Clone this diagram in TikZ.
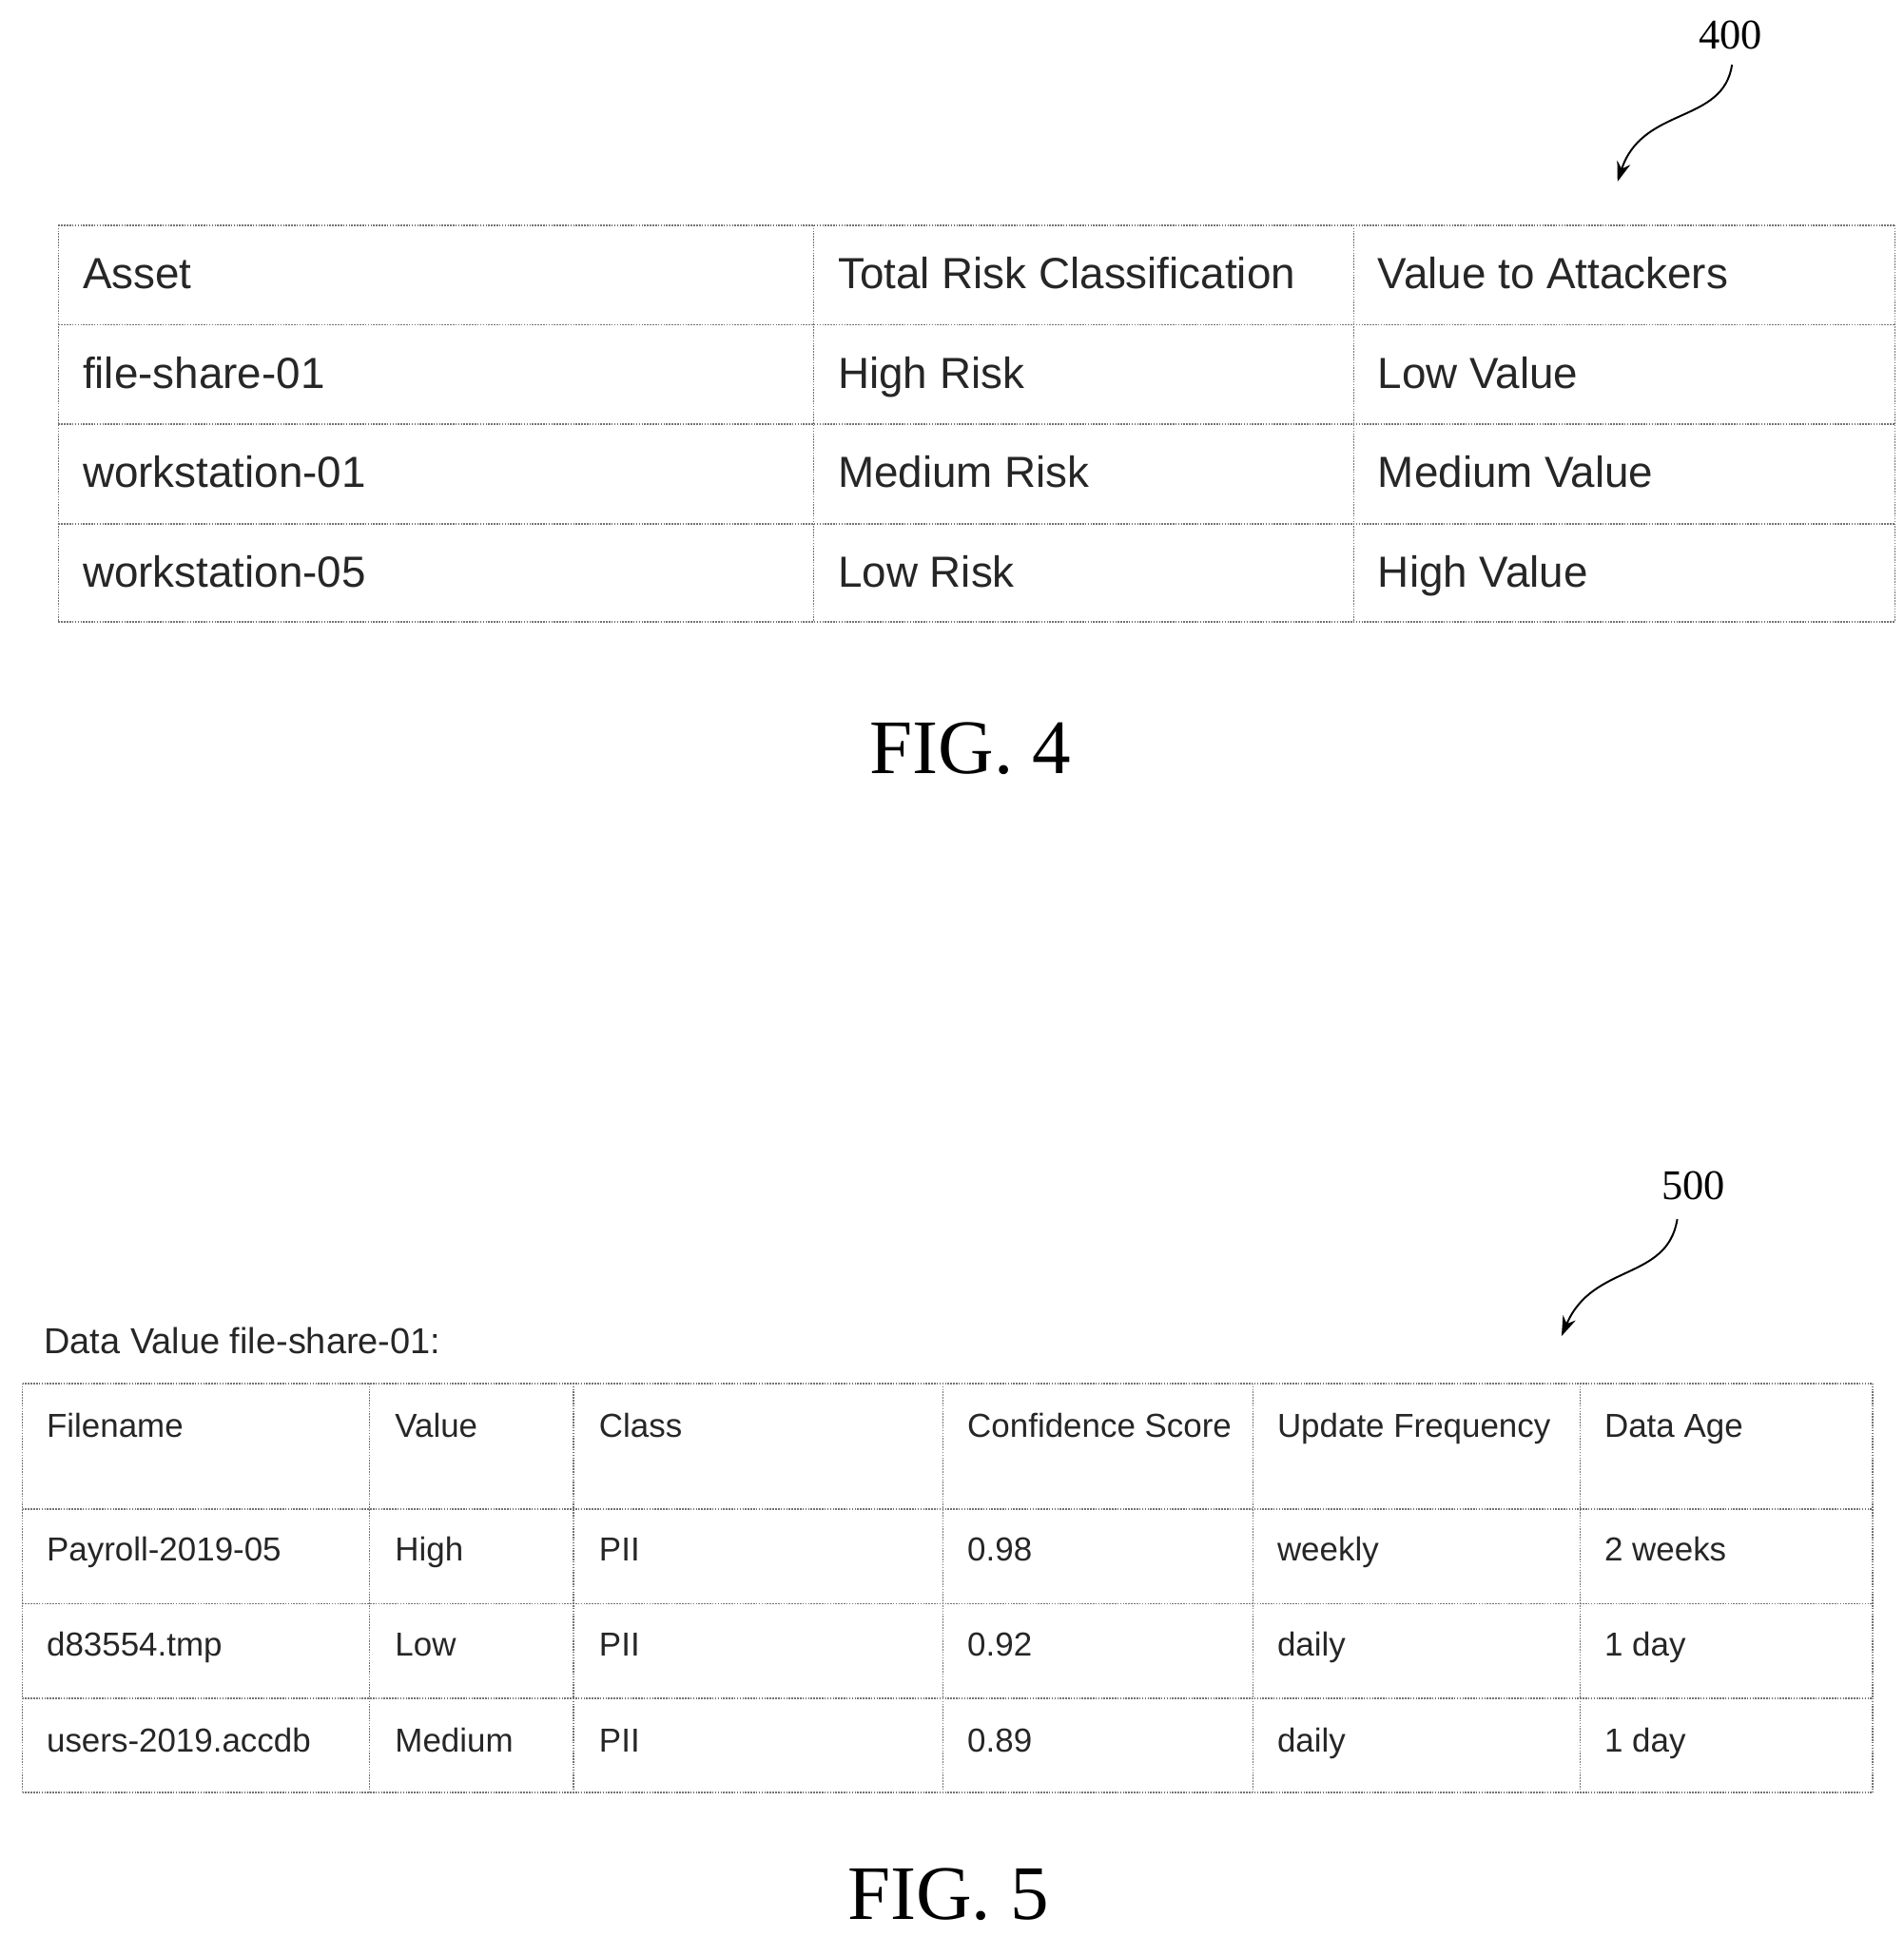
\documentclass[tikz,border=0pt]{standalone}
\usepackage{fontspec}
\setmainfont{Liberation Serif}
\setsansfont{Liberation Sans}
\usetikzlibrary{arrows.meta}
\begin{document}
\begin{tikzpicture}[x=1pt,y=-1pt,
  grid/.style={draw=black!55,line width=1.2pt,densely dotted},
  ta/.style={anchor=base west,font=\sffamily\fontsize{35}{37}\selectfont,text=black!85},
  tb/.style={anchor=base west,font=\sffamily\fontsize{26.7}{28}\selectfont,text=black!85},
  fig/.style={anchor=base,font=\fontsize{62}{64}\selectfont},
  ref/.style={font=\fontsize{34}{36}\selectfont},
  pointer/.style={-{Stealth[length=16pt,width=11pt]},line width=1.5pt}]
\useasboundingbox (0,0) rectangle (1530,1557);
% FIG 4 table
\foreach \x in {47,654,1088,1523} \draw[grid] (\x,181) -- (\x,500);
\foreach \y in {181,261,341,421,500} \draw[grid] (47,\y) -- (1523,\y);
\node[ta] (a1) at (63,232) {Asset};
\node[ta] (a2) at (670,232) {Total Risk Classification};
\node[ta] (a3) at (1104,232) {Value to Attackers};
\node[ta] (b1) at (63,312) {file-share-01};
\node[ta] (b2) at (670,312) {High Risk};
\node[ta] (b3) at (1104,312) {Low Value};
\node[ta] (c1) at (63,392) {workstation-01};
\node[ta] (c2) at (670,392) {Medium Risk};
\node[ta] (c3) at (1104,392) {Medium Value};
\node[ta] (d1) at (63,472) {workstation-05};
\node[ta] (d2) at (670,472) {Low Risk};
\node[ta] (d3) at (1104,472) {High Value};
\node[fig] (f4) at (780,622) {FIG. 4};
\node[ref] (r4) at (1391,28) {400};
\coordinate (r4s) at (1392,52);
\coordinate (r4e) at (1300,146);
\draw[pointer] (r4s) .. controls (1385,100) and (1320,85) .. (r4e);
% FIG 5
\node[anchor=base west,font=\sffamily\fontsize{29}{31}\selectfont,text=black!85] (dv) at (32,1088) {Data Value file-share-01:};
\node[ref] (r5) at (1361,953) {500};
\coordinate (r5s) at (1348,980);
\coordinate (r5e) at (1255,1074);
\draw[pointer] (r5s) .. controls (1340,1030) and (1280,1015) .. (r5e);
\foreach \x in {18,297,461,758,1007,1270,1505} \draw[grid] (\x,1112) -- (\x,1441);
\foreach \y in {1112,1213,1289,1365,1441} \draw[grid] (18,\y) -- (1505,\y);
\foreach \x/\t [count=\i] in {34/Filename,314/Value,478/Class,774/Confidence Score,1023/Update Frequency,1286/Data Age}
  \node[tb] (h\i) at (\x,1155) {\t};
\foreach \x/\t [count=\i] in {34/Payroll-2019-05,314/High,478/PII,774/0.98,1023/weekly,1286/2 weeks}
  \node[tb] (p\i) at (\x,1255) {\t};
\foreach \x/\t [count=\i] in {34/d83554.tmp,314/Low,478/PII,774/0.92,1023/daily,1286/1 day}
  \node[tb] (q\i) at (\x,1331) {\t};
\foreach \x/\t [count=\i] in {34/users-2019.accdb,314/Medium,478/PII,774/0.89,1023/daily,1286/1 day}
  \node[tb] (u\i) at (\x,1408) {\t};
\node[fig] (f5) at (762,1543) {FIG. 5};
\end{tikzpicture}
\end{document}
